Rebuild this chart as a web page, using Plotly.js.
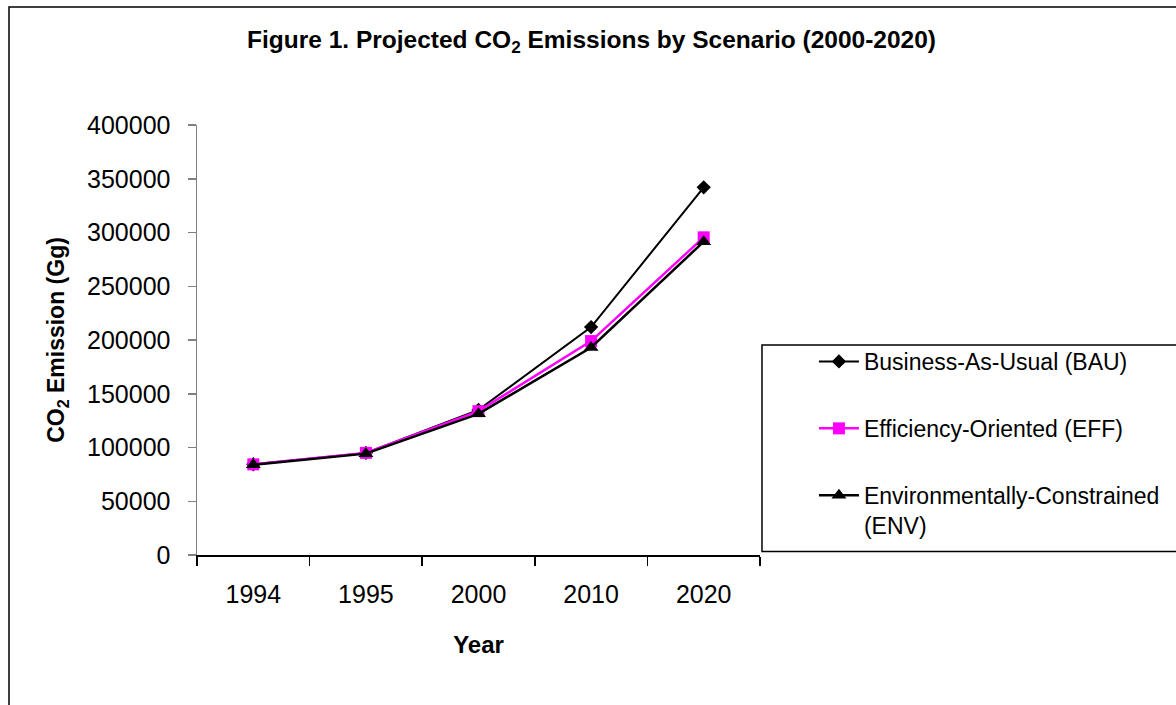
<!DOCTYPE html>
<html>
<head>
<meta charset="utf-8">
<script src="https://cdn.plot.ly/plotly-3.0.1.min.js"></script>
<style>html,body{margin:0;padding:0;background:#fff;}#chart{width:1176px;height:705px;}</style>
</head>
<body>
<div id="chart"></div>
<script>
const years = ["1994", "1995", "2000", "2010", "2020"];
const bau = [84400, 95000, 135000, 212000, 342000];
const eff = [84300, 95000, 133800, 199000, 295500];
const env = [84000, 94300, 131300, 193000, 291500];
const seriesNames = ["Business-As-Usual (BAU)", "Efficiency-Oriented (EFF)", "Environmentally-Constrained<br>(ENV)"];
const yTicks = [0, 50000, 100000, 150000, 200000, 250000, 300000, 350000, 400000];

const FONT = "Arial, 'Liberation Sans', sans-serif";

const traces = [
  {x: years, y: bau, name: seriesNames[0], type: "scatter", mode: "lines+markers", legendgroup: "a",
   line: {color: "#000000", width: 2}, marker: {symbol: "diamond", size: 11, color: "#000000"}},
  {x: years, y: eff, name: seriesNames[1], type: "scatter", mode: "lines+markers", legendgroup: "b",
   line: {color: "#FF00FF", width: 2.5}, marker: {symbol: "square", size: 12, color: "#FF00FF"}},
  {x: years, y: env, name: seriesNames[2], type: "scatter", mode: "lines+markers", legendgroup: "c",
   line: {color: "#000000", width: 2.5}, marker: {symbol: "triangle-up", size: 13, color: "#000000"}}
];

const L = 196.5, R = 761, T = 125, B = 555;
const W = 1176, H = 705;
function px(x) { return (x - L) / (R - L); }
function py(y) { return (B - y) / (B - T); }

const layout = {
  width: W, height: H,
  margin: {l: L, r: W - R, t: T, b: H - B, pad: 0},
  paper_bgcolor: "#ffffff", plot_bgcolor: "#ffffff",
  font: {family: FONT, color: "#000000", size: 25},
  showlegend: true,
  title: {
    text: "<b>Figure 1. Projected CO<sub>2</sub> Emissions by Scenario (2000-2020)</b>",
    font: {family: FONT, size: 24.5, color: "#000000"},
    xref: "container", x: 0.503, xanchor: "center",
    yref: "container", y: 1 - 39 / H, yanchor: "middle"
  },
  xaxis: {
    type: "category",
    categoryorder: "array", categoryarray: years,
    range: [-0.5, 4.5],
    showline: true, linecolor: "#000000", linewidth: 1.5,
    ticks: "outside", tickson: "boundaries", ticklen: 9, tickwidth: 1.5, tickcolor: "#000000",
    showgrid: false, zeroline: false,
    tickfont: {family: FONT, size: 25, color: "#000000"},
    ticklabelstandoff: 16,
    title: {text: "<b>Year</b>", font: {family: FONT, size: 24, color: "#000000"}, standoff: 29},
    automargin: false, fixedrange: true
  },
  yaxis: {
    range: [0, 400000],
    tickmode: "array", tickvals: yTicks, ticktext: yTicks.map(String),
    showline: true, linecolor: "#808080", linewidth: 1.5,
    ticks: "outside", ticklen: 8, tickwidth: 1.5, tickcolor: "#808080",
    showgrid: false, zeroline: false,
    tickfont: {family: FONT, size: 25, color: "#000000"},
    ticklabelstandoff: 12,
    title: {text: "<b>CO<sub>2</sub> Emission (Gg)</b>", font: {family: FONT, size: 23, color: "#000000"}, standoff: 16},
    automargin: false, fixedrange: true
  },
  legend: {
    x: px(814), xanchor: "left", xref: "paper",
    y: py(340), yanchor: "top", yref: "paper",
    bgcolor: "rgba(0,0,0,0)", borderwidth: 0,
    font: {family: FONT, size: 23, color: "#000000"},
    tracegroupgap: 34, valign: "top", traceorder: "grouped",
    itemwidth: 40
  },
  shapes: [
    {type: "rect", xref: "paper", yref: "paper", x0: px(8), x1: px(W + 50), y0: py(H + 50), y1: py(7),
     line: {color: "#000000", width: 1.5}, fillcolor: "rgba(0,0,0,0)", layer: "below"},
    {type: "rect", xref: "paper", yref: "paper", x0: px(763), x1: px(W + 50), y0: py(551.5), y1: py(345),
     line: {color: "#000000", width: 1.5}, fillcolor: "rgba(0,0,0,0)", layer: "above"}
  ]
};

Plotly.newPlot("chart", traces, layout, {displayModeBar: false, staticPlot: true});
</script>
</body>
</html>
